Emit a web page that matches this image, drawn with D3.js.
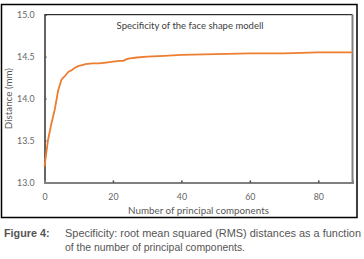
<!DOCTYPE html>
<html><head><meta charset="utf-8">
<script src="https://cdn.jsdelivr.net/npm/d3@7"></script>
<style>
html,body{margin:0;padding:0;background:#fff;}
svg{display:block;}
</style></head>
<body>
<script>
// Data
const components = [0,1,2,3,4,5,6,7,8,9,10,11,12,14,16,18,20,22,23,24,25,27,30,35,40,50,60,70,80,90];
const distances  = [13.19,13.50,13.70,13.87,14.10,14.23,14.27,14.32,14.34,14.37,14.39,14.40,14.41,14.42,14.42,14.43,14.44,14.45,14.45,14.47,14.48,14.49,14.50,14.51,14.52,14.53,14.54,14.54,14.55,14.55];
const xTicks = [0,20,40,60,80];
const yTicks = [13.0,13.5,14.0,14.5,15.0];
const chartTitle = "Specificity of the face shape modell";
const xTitle = "Number of principal components";
const yTitle = "Distance (mm)";
const captionLabel = "Figure 4:";
const captionLines = ["Specificity: root mean squared (RMS) distances as a function","of the number of principal components."];

const W=364,H=259;
const svg=d3.select("body").append("svg").attr("width",W).attr("height",H);
const font="Lato, 'Open Sans', sans-serif";
const capFont="'Liberation Sans Narrow','Arial Narrow','Liberation Sans',sans-serif";

// outer frame
svg.append("rect").attr("x",1.5).attr("y",4.5).attr("width",355.5).attr("height",213)
  .attr("fill","none").attr("stroke","#000").attr("stroke-width",1.5);

const L=44.5,R=352.5,T=14.7,B=182.5;
const x=d3.scaleLinear().domain([0,90]).range([L,R]);
const y=d3.scaleLinear().domain([13,15]).range([B,T]);

// plot area border
svg.append("line").attr("x1",L).attr("x2",R).attr("y1",T).attr("y2",T).attr("stroke","#000").attr("stroke-width",1);
svg.append("line").attr("x1",R).attr("x2",R).attr("y1",T).attr("y2",B).attr("stroke","#808080").attr("stroke-width",2);

// y axis
const ya=svg.append("g").attr("transform",`translate(${L},0)`)
  .call(d3.axisRight(y).tickValues(yTicks).tickSize(2).tickFormat(d3.format(".1f")));
ya.select(".domain").attr("stroke","#000").attr("stroke-width",1.2);
ya.selectAll(".tick line").attr("stroke","#595959").attr("stroke-width",1.5);
ya.selectAll(".tick text").attr("x",-10).attr("text-anchor","end")
  .attr("fill","#666").attr("font-family",font).attr("font-size",8.8);

// x axis
const xa=svg.append("g").attr("transform",`translate(0,${B})`)
  .call(d3.axisTop(x).tickValues(xTicks).tickSize(2).tickFormat(d3.format("d")));
xa.select(".domain").attr("stroke","#808080").attr("stroke-width",2);
xa.selectAll(".tick line").attr("stroke","#404040").attr("stroke-width",1.5);
xa.selectAll(".tick text").attr("y",14).attr("dy","0.35em").attr("text-anchor","middle")
  .attr("fill","#666").attr("font-family",font).attr("font-size",8.8);
xa.selectAll(".tick").filter(d=>d===0).select("line").remove();

// line
const line=d3.line().x((d,i)=>x(components[i])).y(d=>y(d));
svg.append("path").datum(distances).attr("d",line)
  .attr("fill","none").attr("stroke","#ED7D31").attr("stroke-width",1.8).attr("stroke-linejoin","round");

// titles
svg.append("text").attr("x",190).attr("y",29).attr("text-anchor","middle")
  .attr("font-family",font).attr("font-size",9.5).attr("fill","#404040").text(chartTitle);
svg.append("text").attr("x",(L+R)/2).attr("y",214).attr("text-anchor","middle")
  .attr("font-family",font).attr("font-size",9.8).attr("fill","#595959").text(xTitle);
svg.append("text").attr("transform",`translate(12,${(T+B)/2}) rotate(-90)`).attr("text-anchor","middle")
  .attr("font-family",font).attr("font-size",9.8).attr("fill","#595959").text(yTitle);

// caption
svg.append("text").attr("x",4).attr("y",237).attr("font-family",capFont).attr("font-size",10.8)
  .attr("font-weight","bold").attr("fill","#555").text(captionLabel);
svg.append("text").attr("x",65).attr("y",237).attr("font-family",capFont).attr("font-size",10.8)
  .attr("fill","#555").attr("textLength",296).attr("lengthAdjust","spacingAndGlyphs").text(captionLines[0]);
svg.append("text").attr("x",65).attr("y",251).attr("font-family",capFont).attr("font-size",10.8)
  .attr("fill","#555").attr("textLength",180).attr("lengthAdjust","spacingAndGlyphs").text(captionLines[1]);
</script>
</body></html>
